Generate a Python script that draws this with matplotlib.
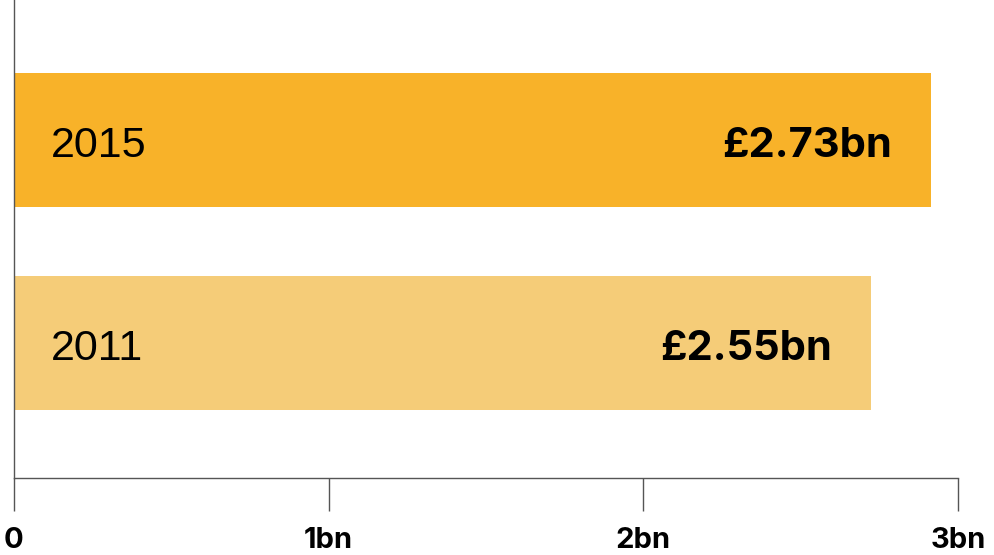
import numpy as np
import matplotlib
matplotlib.use('Agg')
import matplotlib.pyplot as plt

years = ['2011', '2015']
values = [2.55, 2.73]
value_labels = ['£2.55bn', '£2.73bn']
bar_colors = ['#F5CC78', '#F8B229']
tick_labels = ['0', '1bn', '2bn', '3bn']

fig = plt.figure(figsize=(9.95, 5.55), dpi=100)
ax = fig.add_axes([14 / 995, 77 / 555, 944 / 995, 478 / 555])

ypos = np.arange(len(years))
ax.barh(ypos, values, height=0.66, color=bar_colors, zorder=2)

xmax = 2.81
ax.set_xlim(0, xmax)
ax.set_ylim(-0.665, 1.69)

for y, v, yr, lab in zip(ypos, values, years, value_labels):
    ax.text(0.11, y - 0.028, yr, ha='left', va='center', fontsize=31,
            family='Liberation Sans', color='black')
    ax.text(v - 0.115, y - 0.03, lab, ha='right', va='center', fontsize=30,
            family='Inter', fontweight='bold', color='black')

ax.set_xticks(np.linspace(0, xmax, 4))
ax.set_xticklabels(tick_labels, fontsize=21, fontweight='bold', family='Inter')
ax.set_yticks([])
ax.tick_params(axis='x', length=24, width=1.0, color='#555555', pad=11,
               labelcolor='black')

for s in ['top', 'right']:
    ax.spines[s].set_visible(False)
for s in ['left', 'bottom']:
    ax.spines[s].set_color('#555555')
    ax.spines[s].set_linewidth(1.0)

fig.savefig('out.png', dpi=100)
